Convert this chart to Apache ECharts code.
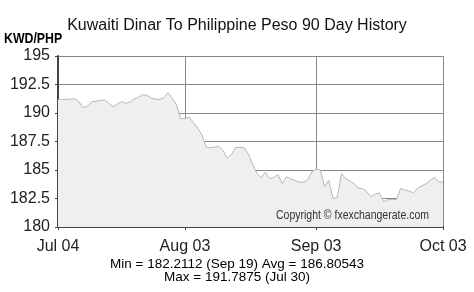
<!DOCTYPE html>
<html><head><meta charset="utf-8">
<script src="https://cdn.jsdelivr.net/npm/echarts@6/dist/echarts.min.js"></script>
<style>html,body{margin:0;padding:0;background:#fff}#c{width:474px;height:292px}</style>
</head><body><div id="c"></div>
<script>
const titleText = 'Kuwaiti Dinar To Philippine Peso 90 Day History';
const unitText = 'KWD/PHP';
const tickIndex = [0, 30, 61, 91];
const tickLabels = ['Jul 04', 'Aug 03', 'Sep 03', 'Oct 03'];
const startDate = '2024-07-04';
const rates = [
 191.18,191.19,191.2,191.22,191.25,190.95,190.47,190.6,191.0,191.03,
 191.1,191.15,190.85,190.56,190.78,191.0,190.85,190.98,191.22,191.4,
 191.6,191.55,191.32,191.22,191.18,191.35,191.7875,191.3,190.7,189.5,
 189.5,189.65,189.15,188.7,188.1,187.0,186.96,187.0,187.08,186.7,
 186.05,186.35,186.98,186.97,186.96,186.4,185.5,184.7,184.35,184.8,
 184.24,184.35,184.6,183.8,184.39,184.22,184.08,183.95,183.95,184.1,
 184.85,185.07,185.0,183.55,184.1,182.5,182.6,184.68,184.24,184.05,
 183.8,183.4,183.37,183.1,182.65,182.92,182.98,182.2112,182.4,182.4,
 182.4,183.37,183.25,183.15,183.0,183.4,183.6,183.8,184.1,184.35,
 183.95,183.95
];
const statsLine1 = 'Min = 182.2112 (Sep 19) Avg = 186.80543';
const statsLine2 = 'Max = 191.7875 (Jul 30)';
const copyrightText = 'Copyright \u00a9 fxexchangerate.com';

const categories = [];
const d0 = new Date(startDate + 'T00:00:00Z');
for (let i = 0; i < rates.length; i++) {
  const d = new Date(d0.getTime() + i * 86400000);
  categories.push(d.toISOString().slice(0, 10));
}
const FONT = '"Liberation Sans", Arial, sans-serif';
const chart = echarts.init(document.getElementById('c'), null, {renderer: 'canvas'});
chart.setOption({
  animation: false,
  backgroundColor: '#ffffff',
  title: {
    text: titleText, left: 'center', top: 13,
    textStyle: {fontFamily: FONT, fontSize: 16, fontWeight: 'normal', color: '#111'}
  },
  grid: {left: 58, right: 31, top: 56, bottom: 65},
  xAxis: {
    type: 'category', data: categories, boundaryGap: false,
    axisLine: {lineStyle: {color: '#444', width: 2}},
    axisTick: {show: true, length: 3, interval: (i) => tickIndex.includes(i), lineStyle: {color: '#444'}},
    axisLabel: {
      interval: (i) => tickIndex.includes(i),
      formatter: (v, i) => tickLabels[tickIndex.indexOf(i)] || '',
      fontFamily: FONT, fontSize: 16, color: '#222', margin: 12
    },
    splitLine: {show: true, interval: (i) => tickIndex.includes(i), lineStyle: {color: '#888', width: 1}}
  },
  yAxis: {
    type: 'value', min: 180, max: 195, interval: 2.5,
    axisLine: {show: true, lineStyle: {color: '#444', width: 2}},
    axisTick: {show: true, length: 3, lineStyle: {color: '#444'}},
    axisLabel: {fontFamily: FONT, fontSize: 16, color: '#222', margin: 8},
    splitLine: {show: true, lineStyle: {color: '#888', width: 1}}
  },
  series: [{
    type: 'line', data: rates, showSymbol: false, symbol: 'none',
    lineStyle: {color: '#b8b8b8', width: 1},
    areaStyle: {color: '#efefef', opacity: 1},
    z: 3
  }],
  graphic: [
    {type: 'text', x: 4, y: 32, scaleX: 0.88, style: {text: unitText, font: 'bold 14px ' + FONT, fill: '#000'}},
    {type: 'text', x: 276, y: 210, scaleX: 0.875, z: 10, style: {text: copyrightText, font: '12px ' + FONT, fill: '#333'}},
    {type: 'text', left: 'center', top: 257, style: {text: statsLine1, font: '13.5px ' + FONT, fill: '#000'}},
    {type: 'text', left: 'center', top: 270, style: {text: statsLine2, font: '13.5px ' + FONT, fill: '#000'}}
  ]
});
</script></body></html>
